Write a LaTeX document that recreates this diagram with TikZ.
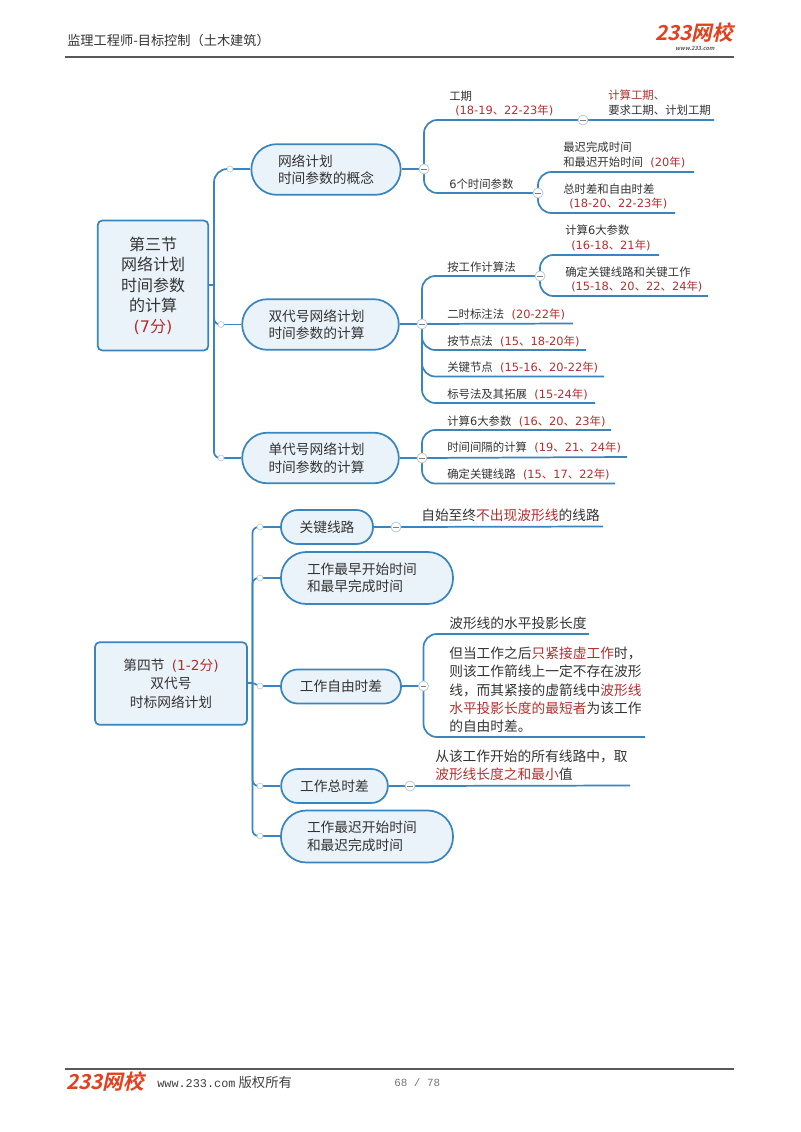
\documentclass[tikz,border=0pt]{standalone}
\usepackage{fontspec}
\setmainfont{Noto Sans CJK SC}
\newfontfamily\logofont[FakeSlant=0.22]{Noto Sans CJK SC Bold}
\newfontfamily\footmono{Liberation Mono}
\newfontfamily\ltnfont{DejaVu Sans}
\definecolor{lineblue}{HTML}{3A85BD}
\definecolor{fillblue}{HTML}{EBF3FA}
\definecolor{redt}{HTML}{B0302E}
\definecolor{textc}{HTML}{333333}
\definecolor{logoc}{HTML}{E2401E}
\definecolor{ringc}{HTML}{B9CBD8}
\newcommand\rd[1]{\textcolor{redt}{#1}}
\newcommand\ltn[1]{{\ltnfont #1}}
\newcommand\rp[1]{\textcolor{redt}{\ltn{(}#1\ltn{)}}}
\pgfdeclarelayer{conn}
\pgfsetlayers{conn,main}
\tikzset{
  every node/.style={text=textc},
  mainbox/.style={draw=lineblue,line width=1.3pt,fill=fillblue,rounded corners=3.5pt,align=center,inner sep=0pt},
  pill/.style={draw=lineblue,line width=1.3pt,fill=fillblue,align=left,inner sep=0pt,font=\fontsize{10.3}{13.1}\selectfont},
  lab/.style={anchor=west,inner sep=0pt,align=left,font=\fontsize{8.55}{11}\selectfont},
  biglab/.style={anchor=west,inner sep=0pt,align=left,font=\fontsize{10.3}{13.7}\selectfont},
  conn/.style={draw=lineblue,line width=1.3pt,rounded corners=10pt},
  tight/.style={draw=lineblue,line width=1.3pt,rounded corners=4.5pt},
  stem/.style={draw=lineblue,line width=1.3pt},
  toggle/.style={circle,draw=ringc,line width=.6pt,fill=white,minimum size=7.5pt,inner sep=0pt,
    path picture={\draw[gray,line width=.5pt] ([xshift=-2pt]path picture bounding box.center)--([xshift=2pt]path picture bounding box.center);}},
  dot/.style={circle,draw=ringc,line width=.5pt,fill=white,minimum size=4.5pt,inner sep=0pt},
  rule/.style={draw=black!65,line width=.9pt},
  logotext/.style={inner sep=0pt,text=logoc,font=\logofont\fontsize{15.5}{15.5}\selectfont},
}
\begin{document}
\begin{tikzpicture}[x=0.75pt,y=-0.75pt]
\useasboundingbox (0,0) rectangle (800,1132);
% header / footer
\node[anchor=west,inner sep=0pt,font=\fontsize{9.9}{12}\selectfont] (hd) at (67,40) {监理工程师-目标控制（土木建筑）};
\node[logotext] (hlogo) at (694,33) {233网校};
\node[inner sep=0pt,text=black!65,font=\logofont\fontsize{4.2}{5}\selectfont] (hweb) at (695,48) {www.233.com};
\coordinate (hl) at (65,57); \coordinate (hr) at (734,57);
\draw[rule] (hl) -- (hr);
\coordinate (fl) at (65,1069); \coordinate (fr) at (734,1069);
\draw[rule] (fl) -- (fr);
\node[logotext,anchor=west] (flogo) at (66,1082) {233网校};
\node[anchor=west,inner sep=0pt,text=black!75,font=\fontsize{10}{12}\selectfont] (fweb) at (157,1082) {{\footmono\fontsize{8.9}{12}\selectfont www.233.com} 版权所有};
\node[anchor=west,inner sep=0pt,text=black!55,font=\footmono\fontsize{8.2}{12}\selectfont] (fpage) at (394,1083) {68 / 78};

% ---- section 3
\node[mainbox,minimum width=83pt,minimum height=97.5pt,font=\fontsize{12}{15.4}\selectfont] (s3) at (153,285.5) {第三节\\网络计划\\时间参数\\的计算\\\rp{\ltn{7}分}};
\node[pill,rounded corners=19pt,minimum width=112pt,minimum height=38pt,text width=72pt] (p1) at (326,169.5) {网络计划\\时间参数的概念};
\node[pill,rounded corners=19pt,minimum width=117.5pt,minimum height=38pt,text width=78pt] (p2) at (320.5,324.5) {双代号网络计划\\时间参数的计算};
\node[pill,rounded corners=19pt,minimum width=117.5pt,minimum height=38pt,text width=78pt] (p3) at (320.5,458) {单代号网络计划\\时间参数的计算};

\coordinate (t3) at (214,285);
\node[dot] (d1) at (230,169) {};
\node[dot] (d2) at (221,324.5) {};
\node[dot] (d3) at (221,458) {};
\node[toggle] (a1) at (424,169) {};
\node[toggle] (a2) at (583,120) {};
\node[toggle] (a3) at (538,193) {};
\node[toggle] (b1) at (422,324) {};
\node[toggle] (b2) at (540,276) {};
\node[toggle] (c1) at (422,458) {};

\coordinate (a2e) at (714,120);
\coordinate (a3u) at (694,172);
\coordinate (a3d) at (675,213);
\coordinate (b2u) at (659,255);
\coordinate (b2d) at (708,296);
\coordinate (b3) at (573,323.5);
\coordinate (b4) at (586,350);
\coordinate (b5) at (604,376.5);
\coordinate (b6) at (595,403);
\coordinate (c2) at (611,430);
\coordinate (c3) at (627,457);
\coordinate (c4) at (615,483.5);

\begin{pgfonlayer}{conn}
\draw[stem] (s3.east |- t3) -- (t3);
\draw[conn] (t3) |- (d1.center);
\draw[tight] (t3) |- (d2.center);
\draw[tight] (t3) |- (d3.center);
\draw[stem] (d1.center) -- (p1.west |- d1);
\draw[stem] (d2.center) -- (p2.west |- d2);
\draw[stem] (d3.center) -- (p3.west |- d3);
\draw[stem] (p1.east |- a1) -- (a1.center);
\draw[stem] (p2.east |- b1) -- (b1.center);
\draw[stem] (p3.east |- c1) -- (c1.center);
\draw[conn] (a1.center) |- (a2e);
\draw[conn] (a1.center) |- (a3.center);
\draw[conn] (a3.center) |- (a3u);
\draw[conn] (a3.center) |- (a3d);
\draw[conn] (b1.center) |- (b2.center);
\draw[conn] (b2.center) |- (b2u);
\draw[conn] (b2.center) |- (b2d);
\draw[stem] (b1.center) -- (b3);
\draw[conn] (b1.center) |- (b4);
\draw[conn] (b1.center) |- (b5);
\draw[conn] (b1.center) |- (b6);
\draw[conn] (c1.center) |- (c2);
\draw[stem] (c1.center) -- (c3);
\draw[conn] (c1.center) |- (c4);
\end{pgfonlayer}

\node[lab] (l1) at (449,103.5) {工期\\\hspace*{4.5pt}\rp{\ltn{18-19}、\ltn{22-23}年}};
\node[lab] (l2) at (608,102.5) {\rd{计算工期、}\\要求工期、计划工期};
\node[lab] (l3) at (563,155) {最迟完成时间\\和最迟开始时间\hspace{5.5pt}\rp{\ltn{20}年}};
\node[lab] (l4) at (449,184) {\ltn{6}个时间参数};
\node[lab] (l5) at (563,196.5) {总时差和自由时差\\\hspace*{4.5pt}\rp{\ltn{18-20}、\ltn{22-23}年}};
\node[lab] (l6) at (565,238) {计算\ltn{6}大参数\\\hspace*{4.5pt}\rp{\ltn{16-18}、\ltn{21}年}};
\node[lab] (l7) at (447,267) {按工作计算法};
\node[lab] (l8) at (565,279.5) {确定关键线路和关键工作\\\hspace*{4.5pt}\rp{\ltn{15-18}、\ltn{20}、\ltn{22}、\ltn{24}年}};
\node[lab] (l9) at (447,314.5) {二时标注法\hspace{5.5pt}\rp{\ltn{20-22}年}};
\node[lab] (l10) at (447,341) {按节点法\hspace{5.5pt}\rp{\ltn{15}、\ltn{18-20}年}};
\node[lab] (l11) at (447,367.5) {关键节点\hspace{5.5pt}\rp{\ltn{15-16}、\ltn{20-22}年}};
\node[lab] (l12) at (447,394) {标号法及其拓展\hspace{5.5pt}\rp{\ltn{15-24}年}};
\node[lab] (l13) at (447,421) {计算\ltn{6}大参数\hspace{5.5pt}\rp{\ltn{16}、\ltn{20}、\ltn{23}年}};
\node[lab] (l14) at (447,447.5) {时间间隔的计算\hspace{5.5pt}\rp{\ltn{19}、\ltn{21}、\ltn{24}年}};
\node[lab] (l15) at (447,474) {确定关键线路\hspace{5.5pt}\rp{\ltn{15}、\ltn{17}、\ltn{22}年}};

% ---- section 4
\node[mainbox,minimum width=114pt,minimum height=62pt,font=\fontsize{10.3}{13.7}\selectfont] (s4) at (171,683.5) {第四节\hspace{5.5pt}\rp{\ltn{1-2}分}\hspace{5.5pt}\\双代号\\时标网络计划};
\node[pill,rounded corners=12.5pt,minimum width=69pt,minimum height=25.5pt] (q1) at (327,527) {关键线路};
\node[pill,rounded corners=19pt,minimum width=129pt,minimum height=39pt,text width=90pt] (q2) at (367,578) {工作最早开始时间\\和最早完成时间};
\node[pill,rounded corners=12.5pt,minimum width=90pt,minimum height=25.5pt] (q3) at (341,686.5) {工作自由时差};
\node[pill,rounded corners=12.5pt,minimum width=80pt,minimum height=25.5pt] (q4) at (334.5,786) {工作总时差};
\node[pill,rounded corners=19pt,minimum width=129pt,minimum height=39pt,text width=90pt] (q5) at (367,836.5) {工作最迟开始时间\\和最迟完成时间};

\coordinate (t4) at (252.5,683);
\node[dot] (e1) at (260,527) {};
\node[dot] (e2) at (260,578) {};
\node[dot] (e3) at (260,686) {};
\node[dot] (e4) at (260,786) {};
\node[dot] (e5) at (260,836) {};
\node[toggle] (f1) at (396,527) {};
\node[toggle] (f3) at (423.5,686) {};
\node[toggle] (f4) at (410,786) {};
\coordinate (f1e) at (603,526.5);
\coordinate (f3u) at (589,634);
\coordinate (f3d) at (645,737);
\coordinate (f4e) at (630,785.5);

\begin{pgfonlayer}{conn}
\draw[stem] (s4.east |- t4) -- (t4);
\draw[tight] (t4) |- (e1.center);
\draw[tight] (t4) |- (e2.center);
\draw[stem] (t4) -- (e3.center);
\draw[tight] (t4) |- (e4.center);
\draw[tight] (t4) |- (e5.center);
\draw[stem] (e1.center) -- (q1.west |- e1);
\draw[stem] (e2.center) -- (q2.west |- e2);
\draw[stem] (e3.center) -- (q3.west |- e3);
\draw[stem] (e4.center) -- (q4.west |- e4);
\draw[stem] (e5.center) -- (q5.west |- e5);
\draw[stem] (q1.east |- f1) -- (f1.center) -- (f1e);
\draw[stem] (q3.east |- f3) -- (f3.center);
\draw[stem] (q4.east |- f4) -- (f4.center) -- (f4e);
\draw[conn] (f3.center) |- (f3u);
\draw[conn] (f3.center) |- (f3d);
\end{pgfonlayer}

\node[biglab] (m1) at (421,515) {自始至终\rd{不出现波形线}的线路};
\node[biglab] (m2) at (449,623) {波形线的水平投影长度};
\node[biglab] (m3) at (449,690) {但当工作之后\rd{只紧接虚工作}时，\\则该工作箭线上一定不存在波形\\线，而其紧接的虚箭线中\rd{波形线}\\\rd{水平投影长度的最短者}为该工作\\的自由时差。};
\node[biglab] (m4) at (435,765) {从该工作开始的所有线路中，取\\\rd{波形线长度之和最小}值};
\end{tikzpicture}
\end{document}
